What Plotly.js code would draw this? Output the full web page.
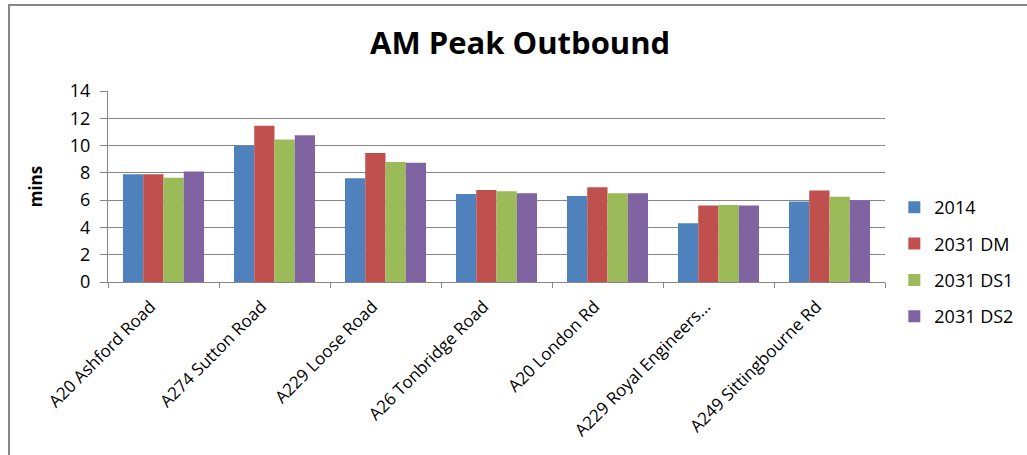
<!DOCTYPE html>
<html>
<head>
<meta charset="utf-8">
<script src="https://cdn.plot.ly/plotly-3.0.1.min.js"></script>
<style>
  html, body { margin: 0; padding: 0; background: #fff; }
  #chart { position: absolute; left: 0; top: 0; width: 1027px; height: 455px; }
  #frame { position: absolute; left: 8px; top: 4px; width: 1040px; height: 470px;
           border: 2px solid #878787; box-sizing: border-box; pointer-events: none; }
</style>
</head>
<body>
<div id="chart"></div>
<div id="frame"></div>
<script>
const categories = ["A20 Ashford Road", "A274 Sutton Road", "A229 Loose Road", "A26 Tonbridge Road",
                    "A20 London Rd", "A229 Royal Engineers...", "A249 Sittingbourne Rd"];
const seriesNames = ["2014", "2031 DM", "2031 DS1", "2031 DS2"];
const v2014  = [7.9, 10.0, 7.6, 6.45, 6.3, 4.3, 5.9];
const v2031DM  = [7.9, 11.45, 9.45, 6.75, 6.95, 5.6, 6.7];
const v2031DS1 = [7.65, 10.45, 8.8, 6.65, 6.5, 5.65, 6.25];
const v2031DS2 = [8.1, 10.75, 8.75, 6.5, 6.5, 5.6, 6.0];
const colors = ["#4F81BD", "#C0504D", "#9BBB59", "#8064A2"];
const yTicks = [0, 2, 4, 6, 8, 10, 12, 14];

const seriesValues = [v2014, v2031DM, v2031DS1, v2031DS2];
const traces = seriesNames.map((name, i) => ({
  type: "bar",
  name: name,
  x: categories,
  y: seriesValues[i],
  marker: { color: colors[i], line: { width: 0 } },
  legendgroup: "g" + i
}));

const font = "'Open Sans', 'Liberation Sans', sans-serif";
const layout = {
  width: 1027, height: 455,
  margin: { l: 108, r: 142, t: 91, b: 173, autoexpand: false },
  paper_bgcolor: "#ffffff", plot_bgcolor: "#ffffff",
  font: { family: font, size: 16, color: "#000" },
  title: { text: "<b>AM Peak Outbound</b>", font: { family: font, size: 31, color: "#000" },
           x: 0.5065, xanchor: "center", y: 0.905, yanchor: "middle", yref: "container", automargin: false },
  barmode: "group",
  bargap: 0.27,
  bargroupgap: 0,
  xaxis: {
    type: "category",
    automargin: false,
    tickangle: -45,
    ticks: "outside", ticklen: 5, tickcolor: "#868686",
    tickson: "boundaries",
    ticklabelshift: -13,
    ticklabelstandoff: 7,
    showline: true, linecolor: "#868686", linewidth: 1,
    showgrid: false,
    tickfont: { size: 17, color: "#000" }
  },
  yaxis: {
    automargin: false,
    range: [0, 14],
    tickvals: yTicks,
    ticktext: yTicks.map(String),
    ticks: "outside", ticklen: 7, tickcolor: "#868686",
    ticklabelstandoff: 6,
    showline: true, linecolor: "#868686", linewidth: 1,
    showgrid: true, gridcolor: "#868686", gridwidth: 1,
    zeroline: false,
    tickfont: { size: 18, color: "#000" },
    title: { text: "<b>mins</b>", font: { size: 17, color: "#000" }, standoff: 22 }
  },
  legend: {
    x: 1.012, xanchor: "left", y: 0.105, yanchor: "middle",
    font: { size: 18, color: "#000" },
    tracegroupgap: 10,
    traceorder: "grouped",
    bgcolor: "rgba(0,0,0,0)"
  },
  showlegend: true
};

Plotly.newPlot("chart", traces, layout, { displayModeBar: false, staticPlot: true });
</script>
</body>
</html>
